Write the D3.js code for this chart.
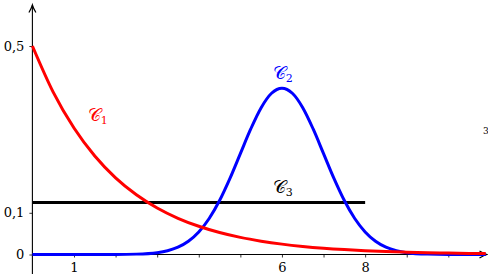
<!DOCTYPE html>
<html><head><meta charset="utf-8">
<script src="https://cdn.jsdelivr.net/npm/d3@7"></script>
<style>body{margin:0;background:#fff}svg{display:block}text{font-family:"DejaVu Serif","Liberation Serif",serif}</style>
</head><body><svg id="c" width="488" height="274"></svg>
<script>
// Data
const xTickValues = [1,2,3,4,5,6,7,8,9,10];
const xTickLabels = {1:"1",6:"6",8:"8"};
const yTickValues = [0, 0.1, 0.5];
const yTickLabels = ["0","0,1","0,5"];

// C1 (red)
const c1X = [0,0.5,1,1.5,2,2.5,3,3.5,4,4.5,5,5.5,6,6.5,7,7.5,8,8.5,9,9.5,10,10.5,10.9];
const c1Y = [0.5,0.3894,0.3033,0.2362,0.1839,0.1433,0.1116,0.0869,0.0677,0.0527,0.0410,0.0320,0.0249,0.0194,0.0151,0.0118,0.0092,0.0071,0.0056,0.0043,0.0034,0.0026,0.0021];
// C2 (blue)
const c2X = [0,1,2,2.5,3,3.25,3.5,3.75,4,4.25,4.5,4.75,5,5.25,5.5,5.75,6,6.25,6.5,6.75,7,7.25,7.5,7.75,8,8.25,8.5,8.75,9,9.5,10,10.9];
const c2Y = [0,0,0.0001,0.0009,0.0044,0.0091,0.0175,0.0317,0.0540,0.0863,0.1295,0.1826,0.2420,0.3011,0.3521,0.3867,0.3989,0.3867,0.3521,0.3011,0.2420,0.1826,0.1295,0.0863,0.0540,0.0317,0.0175,0.0091,0.0044,0.0009,0.0001,0];
// C3 (black)
const c3X = [0,8];
const c3Y = [0.125,0.125];

const labels = [
  {name:"𝒞", sub:"1", x:1.33, y:0.32, color:"#ff0000"},
  {name:"𝒞", sub:"2", x:5.78, y:0.42, color:"#0000ff"},
  {name:"𝒞", sub:"3", x:5.78, y:0.148, color:"#000000"}
];

const svg = d3.select("#c");
const x = d3.scaleLinear().domain([0, 10.93]).range([32.4, 487]);
const y = d3.scaleLinear().domain([0, 0.5]).range([254.5, 46]);

// axes lines
const g = svg.append("g");
g.append("line").attr("x1", x(0)).attr("x2", x(10.93)).attr("y1", y(0)).attr("y2", y(0)).attr("stroke","#000").attr("stroke-width",1.1);
g.append("line").attr("x1", x(0)).attr("x2", x(0)).attr("y1", 274).attr("y2", 5).attr("stroke","#000").attr("stroke-width",1.1);
// arrows
g.append("path").attr("d", "M-3.5,7.5 Q-0.8,3 0,0 Q0.8,3 3.5,7.5").attr("transform", `translate(${x(0)},5)`).attr("fill","none").attr("stroke","#000").attr("stroke-width",1.2);
g.append("path").attr("d", "M-3.5,7.5 Q-0.8,3 0,0 Q0.8,3 3.5,7.5").attr("transform", `translate(${x(10.93)},${y(0)}) rotate(90)`).attr("fill","none").attr("stroke","#000").attr("stroke-width",1.2);

// x ticks
const xAxis = d3.axisBottom(x).tickValues(xTickValues).tickSize(3).tickPadding(5).tickFormat(d => xTickLabels[d] || "");
const xa = svg.append("g").attr("transform", `translate(0,${y(0)})`).call(xAxis);
xa.select(".domain").remove();
xa.selectAll("text").attr("font-family","DejaVu Serif").attr("font-size",13).attr("fill","#000");
xa.selectAll("line").attr("stroke-width",0.8);

const yAxis = d3.axisLeft(y).tickValues(yTickValues).tickSize(3).tickPadding(5).tickFormat((d,i) => yTickLabels[i]);
const ya = svg.append("g").attr("transform", `translate(${x(0)},0)`).call(yAxis);
ya.select(".domain").remove();
ya.selectAll("text").attr("font-family","DejaVu Serif").attr("font-size",13).attr("fill","#000");
ya.selectAll("line").attr("stroke-width",0.8);

const line = d3.line().x(d => x(d[0])).y(d => y(d[1])).curve(d3.curveMonotoneX);
svg.append("path").datum(c3X.map((v,i)=>[v,c3Y[i]])).attr("d", d3.line().x(d=>x(d[0])).y(d=>y(d[1]))).attr("fill","none").attr("stroke","#000").attr("stroke-width",3);
svg.append("path").datum(c2X.map((v,i)=>[v,c2Y[i]])).attr("d", line).attr("fill","none").attr("stroke","#0000ff").attr("stroke-width",3);
svg.append("path").datum(c1X.map((v,i)=>[v,c1Y[i]])).attr("d", line).attr("fill","none").attr("stroke","#ff0000").attr("stroke-width",3);

labels.forEach(l => {
  const t = svg.append("text").attr("x", x(l.x)).attr("y", y(l.y)).attr("fill", l.color).attr("font-size", 18);
  t.append("tspan").text(l.name);
  t.append("tspan").attr("font-size", 11).attr("dy", 3).text(l.sub);
});
// clipped glyph at right edge
svg.append("text").attr("x", 483).attr("y", 134).attr("font-size", 9).attr("fill", "#000").text("3");
</script></body></html>
